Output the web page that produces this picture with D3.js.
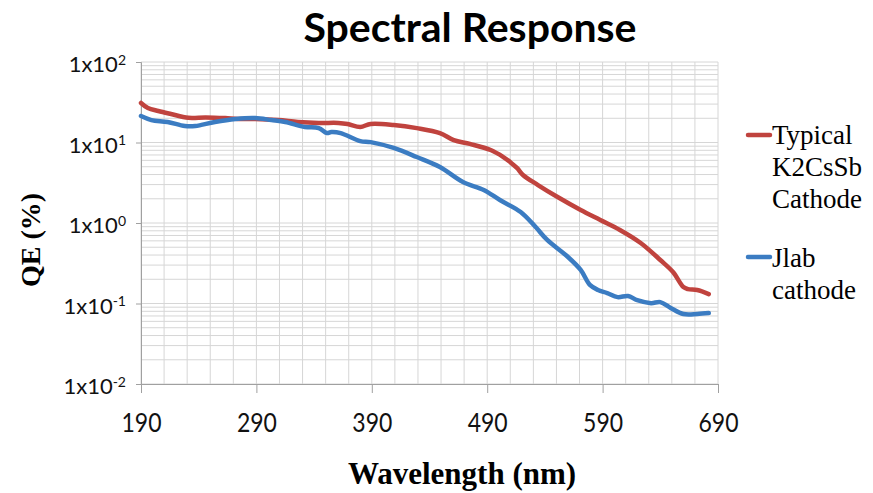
<!DOCTYPE html>
<html><head><meta charset="utf-8">
<script src="https://cdn.jsdelivr.net/npm/d3@7"></script>
<style>body{margin:0;background:#fff;} svg{display:block}</style>
</head><body>
<svg id="chart" width="873" height="493"></svg>
<script>
// ---- data ----
const wavelengthRed = [190,196,205,216,231,246,263,274,289,309,326,344,361,369,380,389,409,429,449,461,475,493,504,510,516,521,534,551,571,588,605,623,640,651,660,664,672,682];
const qeRed = [31.0,26.8,24.6,22.6,20.3,20.5,20.1,19.6,19.6,19.0,18.0,17.5,17.5,17.0,15.6,17.0,16.5,15.1,13.1,10.7,9.6,8.07,6.6,5.7,4.8,3.95,2.96,2.1,1.45,1.09,0.82,0.565,0.347,0.246,0.160,0.151,0.147,0.131];
const wavelengthBlue = [190,199,213,228,237,254,272,289,303,315,332,344,351,355,363,380,389,409,429,449,469,487,501,519,532,542,560,571,579,586,594,603,612,620,632,640,649,660,672,682];
const qeBlue = [21.3,19.0,18.0,16.0,16.0,18.0,19.6,20.1,19.0,18.0,15.6,15.1,13.1,13.5,13.1,10.4,10.1,8.55,6.6,4.96,3.23,2.57,1.93,1.37,0.89,0.615,0.378,0.261,0.170,0.147,0.135,0.120,0.124,0.110,0.101,0.104,0.088,0.074,0.074,0.076];
const xTickValues = [190,290,390,490,590,690];
const yTickValues = [0.01,0.1,1,10,100];
const legendRed = ["Typical","K2CsSb","Cathode"];
const legendBlue = ["Jlab","cathode"];
const titleText = "Spectral Response";
const xTitle = "Wavelength (nm)";
const yTitle = "QE (%)";

// ---- layout ----
const svg = d3.select("#chart");
const L = 141, R = 718, T = 62, B = 384;
const x = d3.scaleLinear().domain([190,690]).range([L,R]);
const y = d3.scaleLog().domain([0.01,100]).range([B,T]);
const redC = "#c0433e", blueC = "#3b7cc2";
const sans = "Lato, 'Open Sans', sans-serif";
const serif = "'Liberation Serif', 'Times New Roman', serif";

// grid
const g = svg.append("g");
const vGrid = d3.range(190, 691, 20);
g.selectAll("line.v").data(vGrid).join("line")
  .attr("x1", d=>x(d)).attr("x2", d=>x(d)).attr("y1", T).attr("y2", B)
  .attr("stroke", "#d6d6d6").attr("stroke-width", 1);
const hGrid = [];
for (let e=-2; e<2; e++) for (let m=1; m<10; m++) hGrid.push(m*Math.pow(10,e));
hGrid.push(100);
g.selectAll("line.h").data(hGrid).join("line")
  .attr("x1", L).attr("x2", R).attr("y1", d=>y(d)).attr("y2", d=>y(d))
  .attr("stroke", "#d6d6d6").attr("stroke-width", 1);

// axes
const xAxis = d3.axisBottom(x).tickValues(xTickValues).tickSize(9).tickFormat(d3.format("d"));
const xa = svg.append("g").attr("transform", `translate(0,${B})`).call(xAxis);
xa.select(".domain").attr("stroke", "#a0a0a0");
xa.selectAll(".tick line").attr("stroke", "#a0a0a0");
xa.selectAll(".tick text").attr("font-family", sans).attr("font-size", 23).attr("fill", "#111")
  .attr("y", 0).attr("dy", 0).attr("transform", "translate(0,48) scale(1,1.15)");

const yAxis = d3.axisLeft(y).tickValues(yTickValues).tickSize(5).tickPadding(10);
const ya = svg.append("g").attr("transform", `translate(${L},0)`).call(yAxis);
ya.select(".domain").attr("stroke", "#a0a0a0");
ya.selectAll(".tick line").attr("stroke", "#a0a0a0");
ya.selectAll(".tick text").each(function(d){
  const t = d3.select(this);
  t.text(null).attr("font-family", sans).attr("font-size", 22).attr("fill", "#111").attr("dy", "0.45em");
  t.append("tspan").text("1x10");
  t.append("tspan").attr("dy", "-0.55em").attr("font-size", 14).text(String(Math.round(Math.log10(d))));
});

// lines (red first, blue on top)
const line = d3.line().x(d=>x(d[0])).y(d=>y(d[1])).curve(d3.curveCatmullRom.alpha(0.5));
svg.append("path").datum(d3.zip(wavelengthRed, qeRed)).attr("d", line)
  .attr("fill","none").attr("stroke", redC).attr("stroke-width", 4.5).attr("stroke-linejoin","round").attr("stroke-linecap","round");
svg.append("path").datum(d3.zip(wavelengthBlue, qeBlue)).attr("d", line)
  .attr("fill","none").attr("stroke", blueC).attr("stroke-width", 4.5).attr("stroke-linejoin","round").attr("stroke-linecap","round");

// title
svg.append("text").attr("x", 470).attr("y", 42).attr("text-anchor","middle")
  .attr("font-family", sans).attr("font-weight","bold").attr("font-size", 41).attr("fill","#000")
  .text(titleText);

// axis titles
svg.append("text").attr("x", 462).attr("y", 484).attr("text-anchor","middle")
  .attr("font-family", serif).attr("font-weight","bold").attr("font-size", 31).attr("fill","#000")
  .text(xTitle);
svg.append("text").attr("transform","translate(40,240) rotate(-90)").attr("text-anchor","middle")
  .attr("font-family", serif).attr("font-weight","bold").attr("font-size", 28).attr("fill","#000")
  .text(yTitle);

// legend
const leg = svg.append("g").attr("font-family", serif).attr("font-size", 27).attr("fill","#000");
function legendItem(yLine, color, lines, yFirst){
  leg.append("line").attr("x1", 748).attr("x2", 770).attr("y1", yLine).attr("y2", yLine)
    .attr("stroke", color).attr("stroke-width", 4.5).attr("stroke-linecap","round");
  lines.forEach((s,i)=> leg.append("text").attr("x", 772).attr("y", yFirst + i*32).text(s));
}
legendItem(135, redC, legendRed, 144);
legendItem(257, blueC, legendBlue, 267);
</script>
</body></html>
